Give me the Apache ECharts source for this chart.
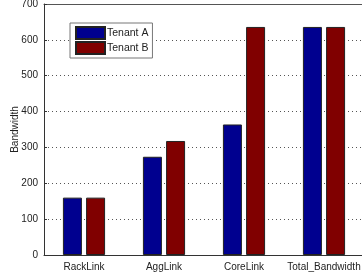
<!DOCTYPE html>
<html>
<head>
<meta charset="utf-8">
<script src="https://cdn.jsdelivr.net/npm/echarts@6/dist/echarts.min.js"></script>
<style>
html, body { margin: 0; padding: 0; background: #fff; }
#main { width: 362px; height: 275px; }
</style>
</head>
<body>
<div id="main"></div>
<script>
// 柱状图数据
var categories = ['RackLink', 'AggLink', 'CoreLink', 'Total_Bandwidth'];
var tenantA = [160, 274, 364, 636];
var tenantB = [160, 318, 636, 636];
var yTicks = [0, 100, 200, 300, 400, 500, 600, 700];

var chart = echarts.init(document.getElementById('main'));
var font = 'Liberation Sans';

var option = {
	animation: false,
	textStyle: { fontFamily: font },
	legend: {
		left: 70,
		top: 23,
		orient: 'vertical',
		icon: 'rect',
		itemWidth: 29,
		itemHeight: 12,
		itemGap: 1,
		padding: [3, 4, 3, 5],
		borderColor: '#777',
		borderWidth: 1,
		backgroundColor: '#fff',
		textStyle: { fontSize: 10.5, color: '#222', fontFamily: font, padding: [0, 0, 0, -3] },
		data: ['Tenant A', 'Tenant B']
	},
	grid: { left: 44, right: -2, top: 4, bottom: 20, outerBoundsMode: 'none' },
	xAxis: [{
		type: 'category',
		data: categories,
		axisLine: { lineStyle: { color: '#333' } },
		axisTick: { inside: true, alignWithLabel: true, length: 3, lineStyle: { color: '#333' } },
		axisLabel: { fontSize: 10, color: '#222', margin: 7, interval: 0 }
	}, {
		type: 'category',
		position: 'top',
		data: categories,
		axisLine: { lineStyle: { color: '#555' } },
		axisTick: { inside: true, alignWithLabel: true, length: 3, lineStyle: { color: '#555' } },
		axisLabel: { show: false }
	}],
	yAxis: {
		type: 'value',
		min: yTicks[0],
		max: yTicks[yTicks.length - 1],
		interval: 100,
		name: 'Bandwidth',
		nameLocation: 'middle',
		nameMoveOverlap: false,
		nameGap: 24,
		nameTextStyle: { fontSize: 10, color: '#222' },
		axisLine: { show: true, lineStyle: { color: '#333' } },
		axisTick: { show: true, inside: true, length: 3, lineStyle: { color: '#333' } },
		axisLabel: { fontSize: 10, color: '#222', margin: 6 },
		splitLine: { show: true, lineStyle: { type: [1, 3], color: '#555', width: 1 } }
	},
	series: [{
		name: 'Tenant A',
		type: 'bar',
		data: tenantA,
		barWidth: 19,
		barGap: '22%',
		itemStyle: { color: '#00008f', borderColor: '#222', borderWidth: 1 }
	}, {
		name: 'Tenant B',
		type: 'bar',
		data: tenantB,
		barWidth: 19,
		itemStyle: { color: '#800000', borderColor: '#222', borderWidth: 1 }
	}]
};
chart.setOption(option);

window.onresize = function () {
	chart.resize();
};
</script>
</body>
</html>
